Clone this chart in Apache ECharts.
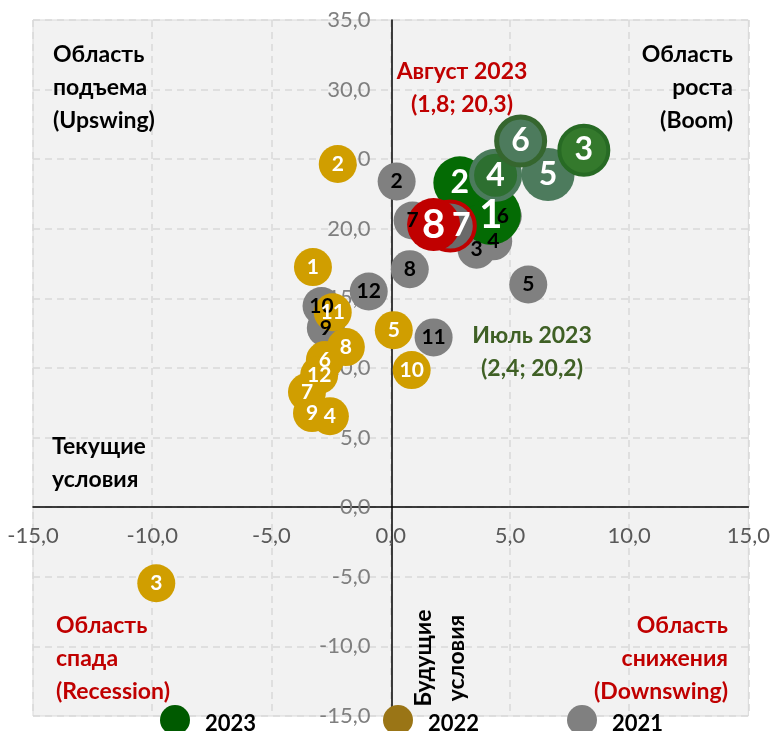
<!DOCTYPE html>
<html>
<head>
<meta charset="utf-8">
<script src="https://cdn.jsdelivr.net/npm/echarts@6/dist/echarts.min.js"></script>
<style>
  html, body { margin: 0; padding: 0; background: #fff; }
  #chart { width: 773px; height: 731px; }
</style>
</head>
<body>
<div id="chart"></div>
<script>
// Point data: [x (current conditions), y (future conditions)] and month numbers
var months2023 = [1, 2, 5, 4, 3, 6, 7, 8];
var points2023 = [[4.2, 21.0], [2.9, 23.3], [6.6, 23.9], [4.4, 23.85], [8.1, 25.65], [5.45, 26.3], [2.5, 20.2], [1.8, 20.3]];

var months2022 = [1, 2, 3, 4, 5, 6, 7, 8, 9, 10, 11, 12];
var points2022 = [[-3.26, 17.25], [-2.22, 24.66], [-9.83, -5.46], [-2.55, 6.54], [0.13, 12.72], [-2.76, 10.57],
                  [-3.51, 8.27], [-1.88, 11.5], [-3.3, 6.76], [0.88, 9.85], [-2.43, 14.0], [-3.0, 9.5]];

var months2021 = [2, 3, 4, 5, 6, 7, 8, 9, 10, 11, 12];
var points2021 = [[0.25, 23.4], [3.6, 18.5], [4.3, 19.1], [5.77, 16.0], [4.7, 20.9], [0.92, 20.6],
                  [0.8, 17.1], [-2.72, 12.87], [-2.9, 14.45], [1.8, 12.2], [-0.92, 15.5]];

var xTicks = { min: -15, max: 15, interval: 5 };
var yTicks = { min: -15, max: 35, interval: 5 };

// Per-month styles for 2023 bubbles
var styles2023 = {
    1: { color: '#046b04' },
    2: { color: '#046b04' },
    3: { color: '#34792c', borderColor: '#276a24', borderWidth: 4 },
    4: { color: '#2d6f30', borderColor: '#4b7b5c', borderWidth: 5 },
    5: { color: '#4d7b5d' },
    6: { color: '#4d7b5d', borderColor: '#35662e', borderWidth: 5 },
    7: { color: '#6a6a6a', borderColor: '#c00000', borderWidth: 4 },
    8: { color: '#c00000' }
};
var bigLabel2023 = { 1: 40, 8: 40 };
var labelShift2023 = { 7: [11, 0] };
var bubbleSize2023 = { 1: 60 };

var FONT = 'Lato, "Noto Sans", sans-serif';

var chart = echarts.init(document.getElementById('chart'));

// plot area in pixels, used to place the axes through the origin
var gridBox = { left: 33, right: 23, top: 20, bottom: 15 };
var plotW = 773 - gridBox.left - gridBox.right;
var plotH = 731 - gridBox.top - gridBox.bottom;
var xZeroOffset = plotW * (0 - xTicks.min) / (xTicks.max - xTicks.min);
var yZeroOffset = plotH * (0 - yTicks.min) / (yTicks.max - yTicks.min);

function fmt(v) {
    return v.toFixed(1).replace('.', ',');
}

function smallSeries(name, points, months, color, labelColor) {
    return {
        name: name,
        type: 'scatter',
        z: 2,
        symbolSize: 38,
        itemStyle: { color: color, opacity: 1 },
        label: {
            show: true,
            position: 'inside',
            color: labelColor,
            fontSize: 21,
            fontWeight: 'bold',
            fontFamily: FONT,
            formatter: function (p) { return p.value[2]; }
        },
        emphasis: { disabled: true },
        data: points.map(function (pt, i) { return [pt[0], pt[1], months[i]]; })
    };
}

var data2023 = points2023.map(function (pt, i) {
    var m = months2023[i];
    return {
        value: [pt[0], pt[1], m],
        symbolSize: (bubbleSize2023[m] || 53) - (styles2023[m].borderWidth || 0),
        itemStyle: styles2023[m],
        label: { fontSize: bigLabel2023[m] || 32, offset: labelShift2023[m] || [0, 0] }
    };
});

function legendItem(name, color, left) {
    return {
        data: [{ name: name, itemStyle: { color: color } }],
        icon: 'circle',
        itemWidth: 30,
        itemHeight: 30,
        left: left,
        top: 700,
        selectedMode: false,
        formatter: '{yr|{name}}',
        textStyle: {
            color: '#000',
            rich: {
                yr: {
                    fontSize: 22,
                    fontWeight: 'bold',
                    fontFamily: FONT,
                    color: '#000',
                    padding: [7, 0, 0, 10]
                }
            }
        }
    };
}

function annot(text, x, y, align, color, rotation) {
    return {
        type: 'text',
        x: x,
        y: y,
        z: 100,
        rotation: rotation || 0,
        silent: true,
        style: {
            text: text,
            fill: color,
            fontSize: 23,
            fontWeight: 'bold',
            fontFamily: FONT,
            align: align,
            verticalAlign: 'middle',
            lineHeight: 33
        }
    };
}

chart.setOption({
    animation: false,
    backgroundColor: '#fff',
    grid: {
        left: gridBox.left,
        right: gridBox.right,
        top: gridBox.top,
        bottom: gridBox.bottom,
        show: true,
        backgroundColor: '#f2f2f2',
        borderColor: '#d9d9d9',
        borderWidth: 1
    },
    legend: [
        legendItem('2023', '#005a00', 155),
        legendItem('2022', '#9a7516', 378),
        legendItem('2021', '#808080', 562)
    ],
    xAxis: {
        type: 'value',
        position: 'bottom',
        offset: -yZeroOffset,
        min: xTicks.min,
        max: xTicks.max,
        interval: xTicks.interval,
        axisLine: { onZero: false, lineStyle: { color: '#000', width: 1.5 } },
        axisTick: { show: false },
        axisLabel: {
            margin: 18,
            fontSize: 22,
            fontFamily: FONT,
            color: '#595959',
            formatter: fmt
        },
        splitLine: { show: true, lineStyle: { color: '#d9d9d9', width: 1.5, type: [7, 5] } }
    },
    yAxis: {
        type: 'value',
        position: 'left',
        offset: -xZeroOffset,
        min: yTicks.min,
        max: yTicks.max,
        interval: yTicks.interval,
        axisLine: { onZero: false, lineStyle: { color: '#000', width: 1.5 } },
        axisTick: { show: false },
        axisLabel: {
            margin: 21,
            fontSize: 22,
            fontFamily: FONT,
            color: '#7f7f7f',
            formatter: fmt
        },
        splitLine: { show: true, lineStyle: { color: '#d9d9d9', width: 1.5, type: [7, 5] } }
    },
    series: [
        smallSeries('2021', points2021, months2021, '#808080', '#000'),
        smallSeries('2022', points2022, months2022, '#d09e00', '#fff'),
        {
            name: '2023',
            type: 'scatter',
            z: 2,
            itemStyle: { color: '#046b04', opacity: 1 },
            label: {
                show: true,
                position: 'inside',
                color: '#fff',
                fontWeight: 'bold',
                fontFamily: FONT,
                formatter: function (p) { return p.value[2]; }
            },
            emphasis: { disabled: true },
            data: data2023
        }
    ],
    graphic: [
        annot('Область\nподъема\n(Upswing)', 53, 88, 'left', '#000'),
        annot('Область\nроста\n(Boom)', 733, 88, 'right', '#000'),
        annot('Август 2023\n(1,8; 20,3)', 462, 88, 'center', '#c00000'),
        annot('Июль 2023\n(2,4; 20,2)', 532, 352, 'center', '#3f6025'),
        annot('Текущие\nусловия', 52, 463, 'left', '#000'),
        annot('Область\nспада\n(Recession)', 56, 659, 'left', '#c00000'),
        annot('Область\nснижения\n(Downswing)', 728, 659, 'right', '#c00000'),
        annot('Будущие\nусловия', 440, 658, 'center', '#000', Math.PI / 2)
    ]
});
</script>
</body>
</html>
